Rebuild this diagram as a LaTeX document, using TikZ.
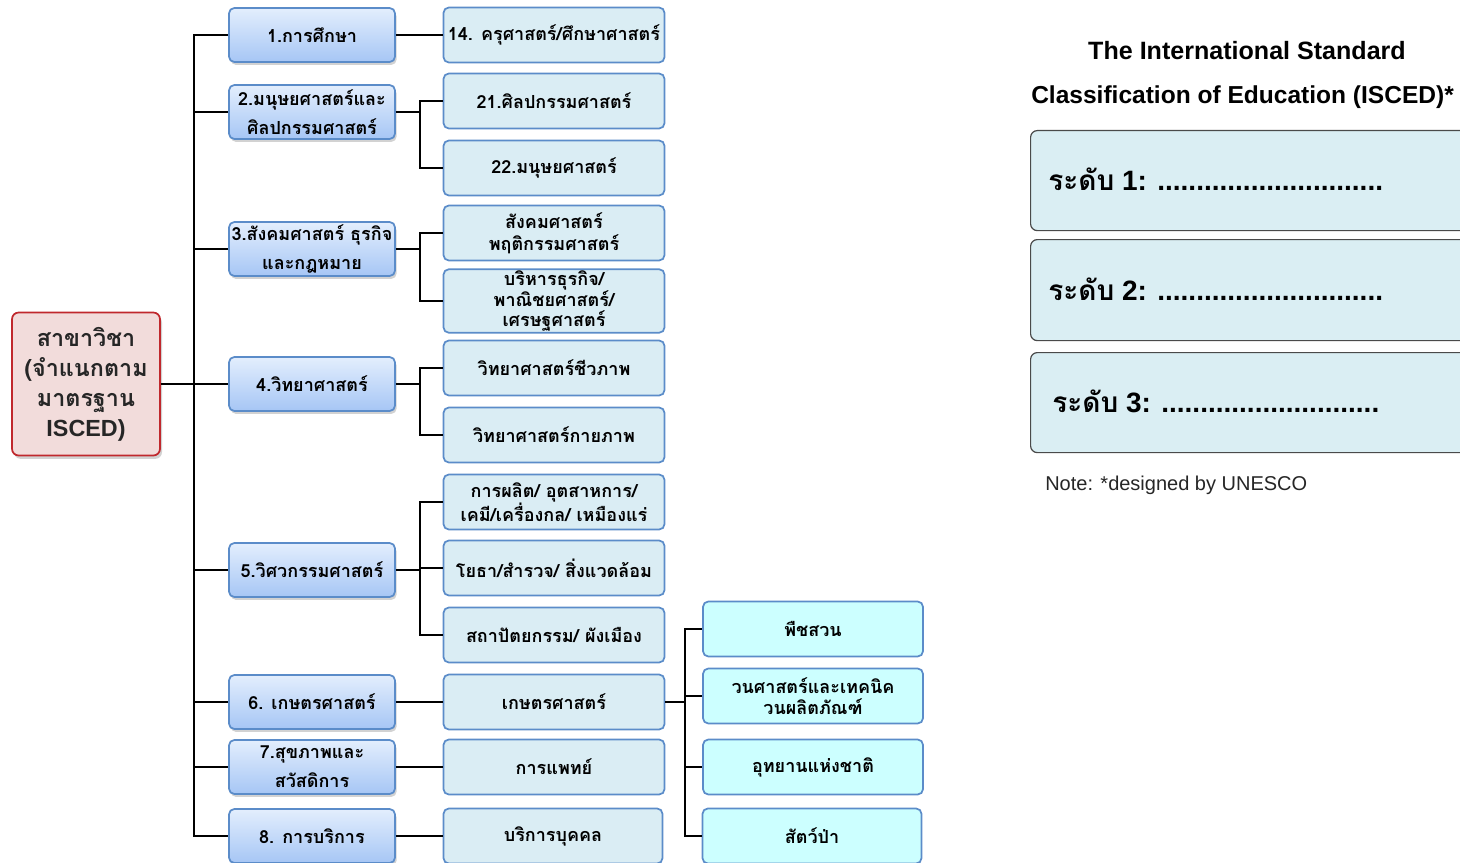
\documentclass[tikz,border=0pt]{standalone}
\usepackage{fontspec}
\setmainfont{Liberation Sans}
\newfontfamily\thai[Script=Thai]{Loma}
\usetikzlibrary{shadows}
\definecolor{rootfill}{HTML}{F2DCDB}
\definecolor{rootdraw}{HTML}{C0282D}
\definecolor{lonetop}{HTML}{E3EEFD}
\definecolor{lonebot}{HTML}{A6C6F5}
\definecolor{boxdraw}{HTML}{5B8CC9}
\definecolor{ltwofill}{HTML}{DAEDF4}
\definecolor{lthreefill}{HTML}{CCFFFF}
\definecolor{lvlfill}{HTML}{DAEEF3}
\definecolor{lvldraw}{HTML}{4A4A4A}
\begin{document}
\begin{tikzpicture}[x=0.75pt,y=-0.75pt,
  box/.style={rounded corners=4pt, line width=1.3pt, draw=boxdraw, align=center, inner sep=1pt,
    font=\thai\bfseries\fontsize{13.5}{16}\selectfont},
  rootbox/.style={rounded corners=5pt, line width=1.3pt, draw=rootdraw, fill=rootfill, align=center,
    minimum width=148*0.75pt, minimum height=143*0.75pt, inner sep=1pt,
    font=\thai\bfseries\fontsize{17.5}{22.5}\selectfont, text=black!85,
    drop shadow={opacity=0.35, shadow xshift=1.5pt, shadow yshift=-2.5pt}},
  lone/.style={box, top color=lonetop, bottom color=lonebot, minimum width=166*0.75pt, minimum height=54*0.75pt,
    drop shadow={opacity=0.35, shadow xshift=1.2pt, shadow yshift=-2.2pt}},
  lonetwo/.style={lone, font=\thai\bfseries\fontsize{13.5}{21.5}\selectfont},
  ltwo/.style={box, fill=ltwofill, minimum width=221*0.75pt, minimum height=55*0.75pt},
  lthree/.style={box, fill=lthreefill, minimum width=220*0.75pt, minimum height=55*0.75pt},
  lvl/.style={rounded corners=5pt, line width=0.9pt, draw=lvldraw, fill=lvlfill},
  lvltext/.style={anchor=west, inner sep=0pt, font=\bfseries\fontsize{21}{24}\selectfont},
  conn/.style={line width=1.4pt, black},
  ]
\useasboundingbox (0,0) rectangle (1460,863);
\clip (0,0) rectangle (1460,863);
\fill[white] (0,0) rectangle (1460,863);

% root
\node[rootbox] (root) at (86,384) {สาขาวิชา\\(จำแนกตาม\\มาตรฐาน\\{\fontspec{Liberation Sans}\bfseries ISCED)}};

% level 1
\node[lone] (a1) at (312,35) {1.การศึกษา};
\node[lonetwo] (a2) at (312,112) {2.มนุษยศาสตร์และ\\ศิลปกรรมศาสตร์};
\node[lonetwo] (a3) at (312,249) {3.สังคมศาสตร์ ธุรกิจ\\และกฎหมาย};
\node[lone] (a4) at (312,384) {4.วิทยาศาสตร์};
\node[lone] (a5) at (312,570) {5.วิศวกรรมศาสตร์};
\node[lone] (a6) at (312,702) {6. เกษตรศาสตร์};
\node[lonetwo] (a7) at (312,767) {7.สุขภาพและ\\สวัสดิการ};
\node[lone] (a8) at (312,836) {8. การบริการ};

% level 2
\node[ltwo] (b14) at (554,35) {14. ครุศาสตร์/ศึกษาศาสตร์};
\node[ltwo] (b21) at (554,101) {21.ศิลปกรรมศาสตร์};
\node[ltwo] (b22) at (554,168) {22.มนุษยศาสตร์};
\node[ltwo, font=\thai\bfseries\fontsize{13.5}{16.5}\selectfont] (b31) at (554,233) {สังคมศาสตร์\\พฤติกรรมศาสตร์};
\node[ltwo, font=\thai\bfseries\fontsize{13.5}{15.5}\selectfont] (b32) at (554,301) {บริหารธุรกิจ/\\พาณิชยศาสตร์/\\เศรษฐศาสตร์};
\node[ltwo] (b41) at (554,368) {วิทยาศาสตร์ชีวภาพ};
\node[ltwo] (b42) at (554,435) {วิทยาศาสตร์กายภาพ};
\node[ltwo, font=\thai\bfseries\fontsize{13.5}{14.5}\selectfont] (b51) at (554,502) {การผลิต/ อุตสาหการ/\\เคมี/เครื่องกล/ เหมืองแร่};
\node[ltwo] (b52) at (554,568) {โยธา/สำรวจ/ สิ่งแวดล้อม};
\node[ltwo] (b53) at (554,635) {สถาปัตยกรรม/ ผังเมือง};
\node[ltwo] (b6) at (554,702) {เกษตรศาสตร์};
\node[ltwo] (b7) at (554,767) {การแพทย์};
\node[ltwo, minimum width=219*0.75pt] (b8) at (553,836) {บริการบุคคล};

% level 3
\node[lthree] (c1) at (813,629) {พืชสวน};
\node[lthree, font=\thai\bfseries\fontsize{13.5}{15.5}\selectfont] (c2) at (813,696) {วนศาสตร์และเทคนิค\\วนผลิตภัณฑ์};
\node[lthree] (c3) at (813,767) {อุทยานแห่งชาติ};
\node[lthree, minimum width=219*0.75pt] (c4) at (812,836) {สัตว์ป่า};

% connectors
\coordinate (t) at (194,384);
\draw[conn] (root.east) -- (t);
\foreach \n in {a1,a2,a3,a4,a5,a6,a7,a8} { \draw[conn] (t) |- (\n.west); }
\draw[conn] (a1.east) -- (b14.west);
\draw[conn] (a2.east) -- +(24,0) |- (b21.west);
\draw[conn] (a2.east) -- +(24,0) |- (b22.west);
\draw[conn] (a3.east) -- +(24,0) |- (b31.west);
\draw[conn] (a3.east) -- +(24,0) |- (b32.west);
\draw[conn] (a4.east) -- +(24,0) |- (b41.west);
\draw[conn] (a4.east) -- +(24,0) |- (b42.west);
\draw[conn] (a5.east) -- +(24,0) |- (b51.west);
\draw[conn] (a5.east) -- +(24,0) |- (b52.west);
\draw[conn] (a5.east) -- +(24,0) |- (b53.west);
\draw[conn] (a6.east) -- (b6.west);
\draw[conn] (a7.east) -- (b7.west);
\draw[conn] (a8.east) -- (b8.west);
\foreach \n in {c1,c2,c3,c4} { \draw[conn] (b6.east) -- +(20,0) |- (\n.west); }

% right panel
\node[font=\bfseries\fontsize{18.8}{20}\selectfont] (title1) at (1247,51) {The International Standard};
\node[anchor=west, inner sep=0pt, font=\bfseries\fontsize{18.4}{20}\selectfont] (title2) at (1031,97) {Classification of Education (ISCED)*};
\node[lvl, anchor=north west, minimum width=500*0.75pt, minimum height=100*0.75pt] (l1) at (1030,130) {};
\node[lvl, anchor=north west, minimum width=500*0.75pt, minimum height=101*0.75pt] (l2) at (1030,239) {};
\node[lvl, anchor=north west, minimum width=500*0.75pt, minimum height=100*0.75pt] (l3) at (1030,352) {};
\node[lvltext] (t1) at (1048,179) {{\thai ระดับ} 1: .............................};
\node[lvltext] (t2) at (1048,289) {{\thai ระดับ} 2: .............................};
\node[lvltext] (t3) at (1052,401) {{\thai ระดับ} 3: ............................};
\node[anchor=west, inner sep=0pt, font=\fontsize{15}{17}\selectfont, text=black!85] (note) at (1045,485) {Note: *designed by UNESCO};
\end{tikzpicture}
\end{document}
